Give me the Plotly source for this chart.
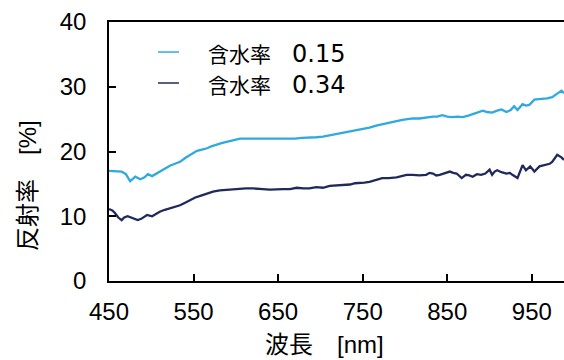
import plotly.graph_objects as go

wl_a = [450, 457, 465, 470, 475, 481, 487, 492, 496, 501, 505, 510, 516, 522, 528, 534, 540, 546, 554, 560,
        566, 571, 577, 583, 589, 597, 605, 612, 620, 628, 635, 642, 650, 655, 663, 670, 678, 687, 695, 703,
        711, 719, 727, 735, 743, 750, 758, 766, 774, 782, 790, 797, 802, 809, 817, 825, 833, 838, 844, 850,
        856, 862, 868, 874, 880, 886, 892, 897, 903, 909, 914, 920, 925, 929, 933, 939, 943, 947, 953, 958,
        962, 968, 974, 980, 985, 988]
refl_a = [17.0, 17.0, 16.9, 16.5, 15.4, 16.1, 15.7, 16.0, 16.5, 16.2, 16.5, 16.9, 17.3, 17.8, 18.1, 18.4, 19.0, 19.5, 20.1, 20.3,
          20.5, 20.8, 21.1, 21.3, 21.5, 21.8, 22.0, 22.0, 22.0, 21.9, 22.0, 21.9, 22.0, 21.9, 22.0, 22.0, 22.1, 22.1, 22.2, 22.3,
          22.5, 22.8, 23.0, 23.2, 23.4, 23.5, 23.7, 24.0, 24.2, 24.5, 24.7, 24.9, 25.0, 25.1, 25.1, 25.3, 25.4, 25.4, 25.6, 25.4,
          25.3, 25.4, 25.3, 25.5, 25.8, 26.0, 26.3, 26.1, 26.0, 26.3, 26.5, 26.1, 26.4, 27.0, 26.4, 27.3, 27.1, 27.2, 28.0, 28.1,
          28.1, 28.2, 28.4, 29.0, 29.4, 29.0]

wl_b = [450, 454, 457, 461, 465, 468, 472, 476, 480, 484, 488, 492, 495, 498, 501, 505, 510, 516, 522, 528,
        534, 540, 546, 552, 557, 565, 573, 581, 589, 597, 605, 612, 620, 625, 632, 640, 648, 656, 664, 672,
        680, 687, 695, 703, 711, 719, 727, 735, 741, 746, 752, 758, 765, 773, 781, 790, 796, 802, 809, 817,
        825, 829, 833, 837, 841, 847, 853, 857, 861, 867, 872, 876, 880, 885, 890, 895, 900, 903, 906, 909,
        914, 920, 924, 927, 933, 939, 943, 948, 953, 959, 963, 967, 971, 974, 977, 980, 985, 988]
refl_b = [11.1, 10.9, 10.5, 9.8, 9.4, 9.8, 10.0, 9.8, 9.5, 9.4, 9.6, 9.9, 10.2, 10.1, 10.0, 10.3, 10.7, 11.0, 11.2, 11.4,
          11.7, 12.1, 12.5, 12.9, 13.1, 13.5, 13.8, 14.0, 14.1, 14.2, 14.3, 14.3, 14.3, 14.3, 14.2, 14.1, 14.2, 14.2, 14.2, 14.4,
          14.3, 14.3, 14.5, 14.4, 14.7, 14.8, 14.8, 14.9, 15.1, 15.1, 15.2, 15.3, 15.6, 15.9, 15.9, 16.0, 16.2, 16.4, 16.4, 16.3,
          16.4, 16.7, 16.6, 16.3, 16.4, 16.6, 16.9, 16.7, 16.6, 15.9, 16.4, 16.3, 16.1, 16.5, 16.4, 16.6, 17.2, 16.4, 16.9, 17.1,
          16.8, 16.6, 16.7, 16.4, 15.9, 17.9, 17.1, 17.7, 16.9, 17.7, 17.8, 17.9, 18.1, 18.4, 19.0, 19.5, 19.1, 18.7]

series_labels = ["含水率", "含水率"]
series_values = ["0.15", "0.34"]
colors = ["#30A9DE", "#1F2A5C"]
x_ticks = [450, 550, 650, 750, 850, 950]
y_ticks = [0, 10, 20, 30, 40]

FONT = "Liberation Sans, Arial, Noto Sans CJK JP, sans-serif"

fig = go.Figure()
fig.add_trace(go.Scatter(x=wl_a, y=refl_a, mode="lines", name=series_labels[0] + " " + series_values[0],
                         line=dict(color=colors[0], width=2.3), showlegend=False))
fig.add_trace(go.Scatter(x=wl_b, y=refl_b, mode="lines", name=series_labels[1] + " " + series_values[1],
                         line=dict(color=colors[1], width=2.3), showlegend=False))

axis_common = dict(showgrid=False, zeroline=False, showline=True, linecolor="black", linewidth=1.5,
                   ticks="inside", ticklen=7, tickwidth=1.5, tickcolor="black",
                   tickfont=dict(family=FONT, size=24, color="black"))

fig.update_layout(
    width=564, height=360,
    margin=dict(l=109, r=0, t=22, b=79),
    paper_bgcolor="white", plot_bgcolor="white",
    xaxis=dict(range=[450, 988], tickvals=x_ticks, mirror=True, ticklabelstandoff=8, **axis_common),
    yaxis=dict(range=[0, 40], tickvals=y_ticks, ticklabelstandoff=16, **axis_common),
)

# legend (manual)
leg_y = [0.884, 0.7645]
for i in range(2):
    fig.add_shape(type="line", xref="paper", yref="paper", x0=0.1077, x1=0.1538, y0=leg_y[i], y1=leg_y[i],
                  line=dict(color=colors[i], width=1.5))
    txt = (series_labels[i] + "　" +
           '<span style="font-family:DejaVu Sans;font-size:24px">' + series_values[i] + "</span>")
    fig.add_annotation(xref="paper", yref="paper", x=0.214, y=leg_y[i] - 0.004, xanchor="left", yanchor="middle",
                       text=txt, showarrow=False,
                       font=dict(family="Noto Sans CJK JP, sans-serif", size=21, color="black"))

# axis titles
fig.add_annotation(xref="paper", yref="paper", x=0.4736, y=-0.247, xanchor="center", yanchor="middle",
                   text="波長　[nm]", showarrow=False, font=dict(family=FONT, size=24, color="black"))
fig.add_annotation(xref="paper", yref="paper", x=-0.178, y=0.367, xanchor="center", yanchor="middle",
                   text="反射率　[%]", textangle=-90, showarrow=False, font=dict(family=FONT, size=24, color="black"))

fig.write_html("out.html", config={"displayModeBar": False},
               post_script="document.body.style.margin='0';document.body.style.overflow='hidden';")
